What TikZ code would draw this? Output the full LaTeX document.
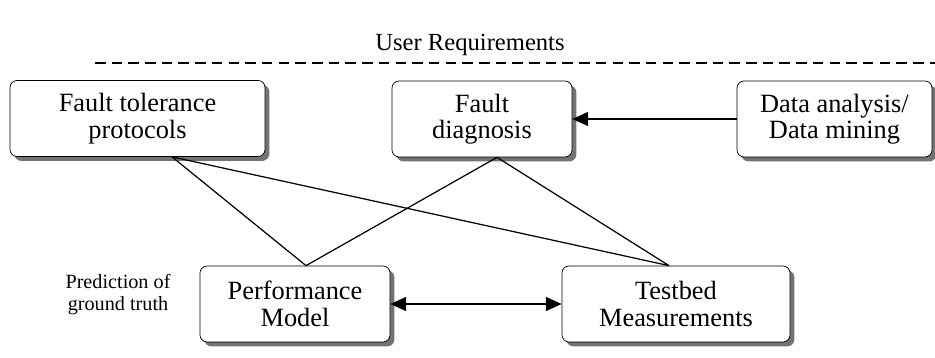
\documentclass[tikz,border=0pt]{standalone}
\usepackage{fontspec}
\setmainfont{Liberation Serif}
\usepackage{tikz}
\usetikzlibrary{positioning,calc,arrows.meta,shadows}

\begin{document}
\begin{tikzpicture}[
    block/.style={
        rectangle,
        draw,
        fill=white,
        rounded corners=4pt,
        minimum height=1.52cm,
        align=center,
        font=\fontsize{15}{15}\selectfont,
        drop shadow={shadow xshift=2.5pt, shadow yshift=-2.5pt, fill=black!55, opacity=1}
    },
    caption/.style={
        font=\fontsize{11.5}{12.5}\selectfont,
        align=center
    },
    link/.style={line width=0.7pt},
    flow/.style={line width=0.7pt, -{Triangle[length=9pt,width=8pt]}}
]

\useasboundingbox (0,0) rectangle (18.7,7.16);

% ------------------------------------------------------------
% Title
% ------------------------------------------------------------

\node[font=\fontsize{14}{16}\selectfont] (req) at (9.4,6.26) {User Requirements};

\coordinate (dashL) at (1.9,5.9);
\coordinate (dashR) at (18.7,5.9);
\draw[line width=0.8pt, dash pattern=on 6pt off 3.5pt] (dashL) -- (dashR);

% ------------------------------------------------------------
% Blocks
% ------------------------------------------------------------

\node[block, minimum width=5.1cm] (ftp) at (2.75,4.79)
    {Fault tolerance\\protocols};

\node[block, minimum width=3.6cm] (diag) at (9.64,4.78)
    {Fault\\diagnosis};

\node[block, minimum width=3.9cm] (data) at (16.69,4.78)
    {Data analysis/\\Data mining};

\node[block, minimum width=3.8cm] (perf) at (5.9,1.08)
    {Performance\\Model};

\node[block, minimum width=4.56cm] (test) at (13.52,1.08)
    {Testbed\\Measurements};

\node[caption] (pred) at (2.36,1.26)
    {Prediction of\\ground truth};

% ------------------------------------------------------------
% Connections
% ------------------------------------------------------------

\coordinate (ftpB) at ([xshift=0.69cm]ftp.south);
\coordinate (diagB) at ([xshift=0.3cm]diag.south);
\coordinate (perfT) at ([xshift=0.22cm]perf.north);
\coordinate (testT) at ([xshift=-0.14cm]test.north);

\draw[link] (ftpB) -- (perfT);
\draw[link] (ftpB) -- (testT);
\draw[link] (diagB) -- (perfT);
\draw[link] (diagB) -- (testT);

\draw[flow] (data.west) -- (diag.east);

\draw[flow, {Triangle[length=9pt,width=8pt]}-{Triangle[length=9pt,width=8pt]}]
    (perf.east) -- (test.west);

\end{tikzpicture}
\end{document}
